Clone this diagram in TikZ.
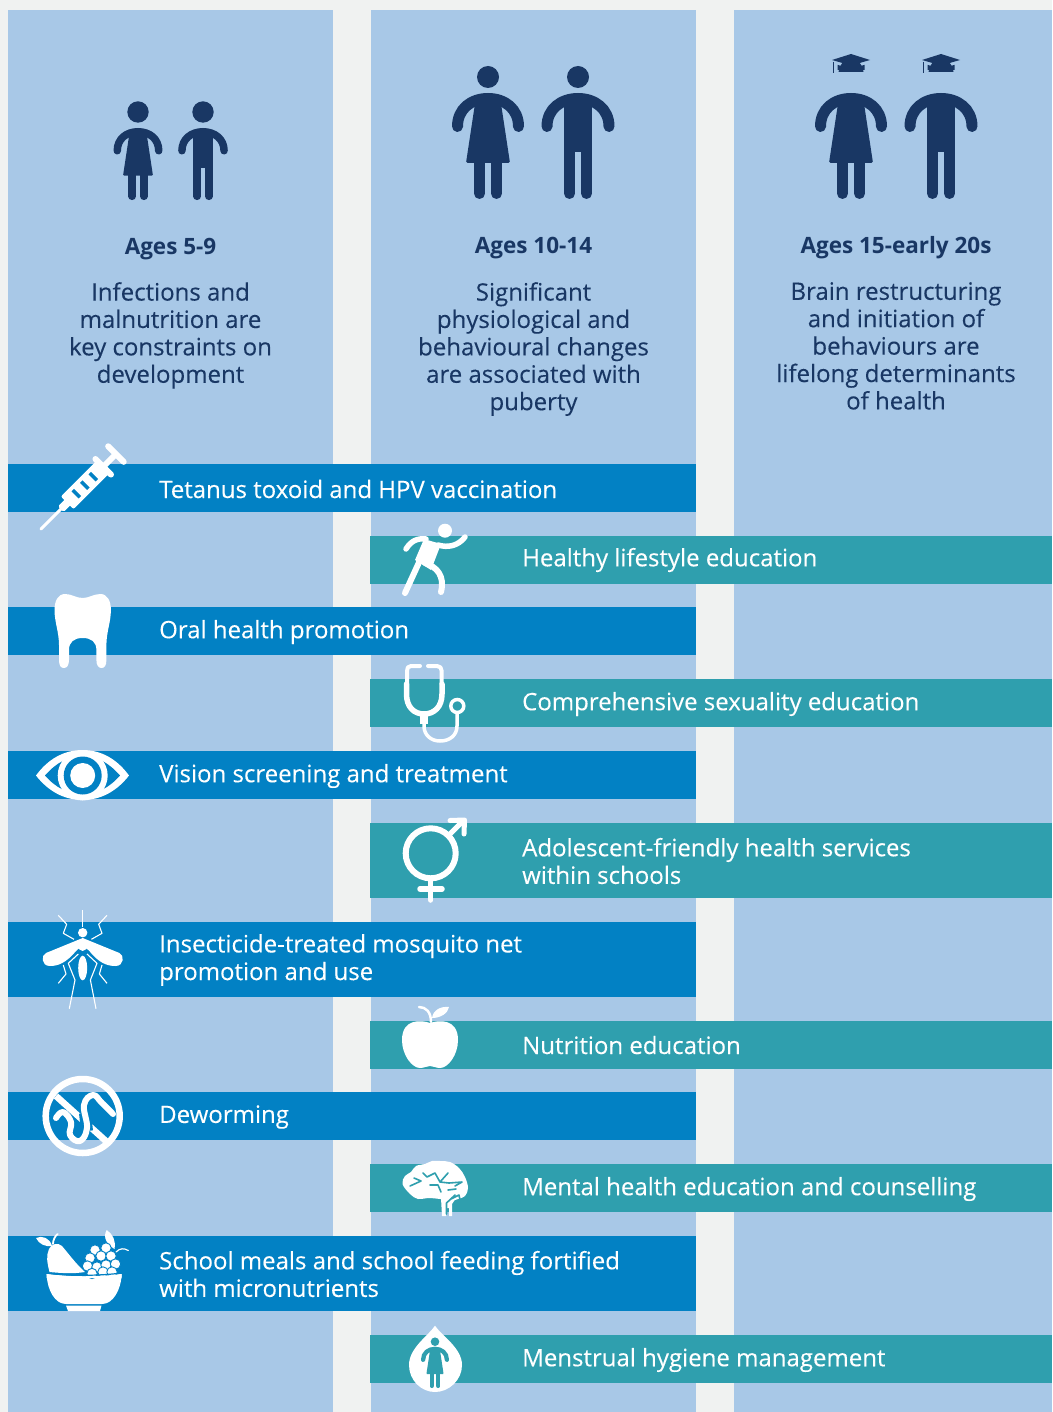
\documentclass[tikz,border=0pt]{standalone}
\usepackage{fontspec}
\setmainfont{Open Sans}
\newfontfamily\medf[FakeBold=0.2]{Open Sans}
\newfontfamily\boldf{Open Sans Bold}[BoldFont={Open Sans Bold}]
\definecolor{bgc}{HTML}{F0F2F1}
\definecolor{colc}{HTML}{A8C8E7}
\definecolor{bluec}{HTML}{0281C4}
\definecolor{tealc}{HTML}{2F9FAE}
\definecolor{navyc}{HTML}{193764}
\tikzset{
  x=1pt,y=-1pt,
  column/.style={fill=colc},
  bluebar/.style={fill=bluec},
  tealbar/.style={fill=tealc},
  bartext/.style={anchor=west,inner sep=0pt,text=white,align=left,font=\medf\fontsize{24}{27.6}\selectfont},
  headtext/.style={anchor=base,inner sep=0pt,text=navyc,font=\bfseries\fontsize{22.5}{27}\selectfont},
  bodytext/.style={anchor=north,inner sep=0pt,text=navyc,align=center,font=\medf\fontsize{24}{27.4}\selectfont},
  wh/.style={fill=white,draw=none},
  whl/.style={draw=white,line cap=round,line join=round,fill=none},
}
% #1 centre x, #2 shoulder-top y, #3 scale, #4 colour
\newcommand{\womanfig}[4]{%
 \begin{scope}[shift={(#1,#2)},scale=#3]
  \draw[#4,line width=#3*11pt,line cap=round] (-30.5,33.5) .. controls (-30.5,16) and (-17,5.5) .. (0,5.5) .. controls (17,5.5) and (30.5,16) .. (30.5,33.5);
  \fill[#4,rounded corners=#3*1.5pt] (-12,4) -- (12,4) -- (22,70) -- (-22,70) -- cycle;
  \draw[#4,line width=#3*11pt,line cap=round] (-8.5,66) -- (-8.5,100.5) (8.5,66) -- (8.5,100.5);
 \end{scope}}
\newcommand{\manfig}[4]{%
 \begin{scope}[shift={(#1,#2)},scale=#3]
  \draw[#4,line width=#3*11pt,line cap=round] (-31,33.5) .. controls (-31,16) and (-17,5.5) .. (0,5.5) .. controls (17,5.5) and (31,16) .. (31,33.5);
  \fill[#4] (-14,4) rectangle (14,59);
  \draw[#4,line width=#3*11pt,line cap=round] (-8.5,55) -- (-8.5,100.5) (8.5,55) -- (8.5,100.5);
 \end{scope}}
\newcommand{\gradhat}[1]{%
 \begin{scope}[shift={(#1,0)}]
  \fill[navyc] (0,54) -- (19,60) -- (0,65.5) -- (-19,60) -- cycle;
  \fill[navyc] (-13.5,65) -- (-13,65) -- (0,69) -- (13,65) -- (13.5,65) -- (13.5,70) -- (-13.5,70) -- cycle;
  \fill[navyc] (-12.5,72) -- (12.5,72) arc[start angle=0,end angle=-180,radius=12.5] -- cycle;
  \draw[navyc,line width=0.9pt] (-17.5,62) -- (-17.5,73);
 \end{scope}}
\begin{document}
\begin{tikzpicture}
\useasboundingbox (0,0) rectangle (1052,1412);
\fill[bgc] (0,0) rectangle (1052,1412);
\fill[column] (8,10) rectangle (333,1412);
\fill[column] (371,10) rectangle (696,1412);
\fill[column] (734,10) rectangle (1052,1412);
% figures
\fill[navyc] (138,112) circle[radius=10.7];
\fill[navyc] (203,112) circle[radius=10.7];
\womanfig{138}{128}{0.68}{navyc}
\manfig{203}{128}{0.68}{navyc}
\fill[navyc] (488,77) circle[radius=11];
\fill[navyc] (578,77) circle[radius=11];
\womanfig{488}{93}{1}{navyc}
\manfig{578}{93}{1}{navyc}
\gradhat{851}\gradhat{941}
\womanfig{851}{93}{1}{navyc}
\manfig{941}{93}{1}{navyc}
% heading texts
\node[headtext] (h1) at (170.5,255) {Ages 5-9};
\node[headtext] (h2) at (533.5,254) {Ages 10-14};
\node[headtext] (h3) at (896,254) {Ages 15-early 20s};
\node[bodytext] (b1) at (170.5,282) {Infections and\\malnutrition are\\key constraints on\\development};
\node[bodytext] (b2) at (533.5,282) {Significant\\physiological and\\behavioural changes\\are associated with\\puberty};
\node[bodytext] (b3) at (896,282) {Brain restructuring\\and initiation of\\behaviours are\\lifelong determinants\\of health};
% bars
\fill[bluebar] (8,464) rectangle (696,512);
\fill[bluebar] (8,607) rectangle (696,655);
\fill[bluebar] (8,751) rectangle (696,799);
\fill[bluebar] (8,922) rectangle (696,997);
\fill[bluebar] (8,1092) rectangle (696,1140);
\fill[bluebar] (8,1236) rectangle (696,1311);
\fill[tealbar] (370,536) rectangle (1052,584);
\fill[tealbar] (370,679) rectangle (1052,727);
\fill[tealbar] (370,823) rectangle (1052,898);
\fill[tealbar] (370,1021) rectangle (1052,1069);
\fill[tealbar] (370,1164) rectangle (1052,1212);
\fill[tealbar] (370,1335) rectangle (1052,1383);
% bar texts
\node[bartext] (t1) at (159,489) {Tetanus toxoid and HPV vaccination};
\node[bartext] (t2) at (522,560) {Healthy lifestyle education};
\node[bartext] (t3) at (159,632) {Oral health promotion};
\node[bartext] (t4) at (522,704) {Comprehensive sexuality education};
\node[bartext] (t5) at (159,776) {Vision screening and treatment};
\node[bartext] (t6) at (522,861) {Adolescent-friendly health services\\within schools};
\node[bartext] (t7) at (159,960) {Insecticide-treated mosquito net\\promotion and use};
\node[bartext] (t8) at (522,1045) {Nutrition education};
\node[bartext] (t9) at (159,1117) {Deworming};
\node[bartext] (t10) at (522,1189) {Mental health education and counselling};
\node[bartext] (t11) at (159,1274) {School meals and school feeding fortified\\with micronutrients};
\node[bartext] (t12) at (522,1360) {Menstrual hygiene management};
% syringe
\begin{scope}[shift={(41,529)},rotate=45]
 \draw[whl,line width=3pt] (0,0) -- (32,0);
 \fill[white,rounded corners=1.5pt] (28,-4) rectangle (40,4);
 \fill[white,rounded corners=2pt] (37,-9) rectangle (88,9);
 \draw[bluec,line width=3.5pt] (50,-5) -- (50,5) (62,-5) -- (62,5) (74,-5) -- (74,5);
 \draw[whl,line width=6pt] (88,-11) -- (88,11);
 \fill[white] (86,-3) rectangle (106,3);
 \draw[whl,line width=6pt] (106,-11) -- (106,11);
\end{scope}
% runner
\fill[white] (445,530.7) circle[radius=7];
\fill[wh] (424,539) -- (441,544) -- (431,570) -- (415,560) -- cycle;
\draw[whl,line width=5.5pt] (406,549) .. controls (411,541) and (417,538) .. (426,539);
\draw[whl,line width=5.5pt] (438,545) .. controls (448,548) and (458,546) .. (465,537);
\draw[whl,line width=6pt] (421,558) -- (405,593);
\draw[whl,line width=6pt] (425,563) .. controls (437,567) and (445,576) .. (441,592);
% tooth
\fill[wh] (82.7,598) .. controls (76,598) and (72,594) .. (65,594) .. controls (58,594) and (54.5,601) .. (54.5,610) .. controls (54.5,622) and (59,632) .. (59,645) -- (59,660) .. controls (59,666) and (61,668) .. (64,668) .. controls (67,668) and (69,665) .. (69,660) -- (69,650) .. controls (69,642) and (74,638) .. (82.7,638) .. controls (91.4,638) and (96.4,642) .. (96.4,650) -- (96.4,660) .. controls (96.4,665) and (98.4,668) .. (101.4,668) .. controls (104.4,668) and (106.4,666) .. (106.4,660) -- (106.4,645) .. controls (106.4,632) and (110.9,622) .. (110.9,610) .. controls (110.9,601) and (107.4,594) .. (100.4,594) .. controls (93.4,594) and (89.4,598) .. (82.7,598) -- cycle;
% stethoscope
\draw[whl,line width=4pt] (420,666) -- (411,666) .. controls (408,666) and (407,668) .. (407,671) -- (407,684);
\draw[whl,line width=4pt] (428,666) -- (437,666) .. controls (440,666) and (441.7,668) .. (441.7,671) -- (441.7,684);
\draw[whl,line width=5.5pt] (406.5,684) -- (406.5,694) .. controls (406.5,707) and (414,714) .. (424,714) .. controls (434,714) and (442,707) .. (442,694) -- (442,684);
\fill[white] (420,713) rectangle (428,724);
\draw[whl,line width=3.5pt] (424,722) -- (424,726) .. controls (424,735) and (431,741) .. (440,741) .. controls (450,741) and (457,735) .. (457,726) -- (457,714);
\draw[white,line width=3.5pt] (457.3,706) circle[radius=6.5];
% eye
\fill[wh] (36,775.5) .. controls (48,759) and (64,750) .. (82.7,750) .. controls (101,750) and (117,759) .. (129,775.5) .. controls (117,791) and (101,800) .. (82.7,800) .. controls (64,800) and (48,791) .. (36,775.5) -- cycle;
\fill[bluec] (45,775.5) .. controls (56,763) and (68,756) .. (82.7,756) .. controls (97,756) and (109,763) .. (120,775.5) .. controls (109,788) and (97,794) .. (82.7,794) .. controls (68,794) and (56,788) .. (45,775.5) -- cycle;
\fill[white] (82.7,775.5) circle[radius=25];
\fill[bluec] (82.7,775.5) circle[radius=19];
\fill[white] (82.7,775.5) circle[radius=12.5];
% gender symbol
\draw[white,line width=6pt] (430.7,853.3) circle[radius=25];
\draw[whl,line width=5.5pt] (430.7,880) -- (430.7,900) (420,889) -- (442,889);
\draw[whl,line width=5pt] (449,835) -- (464,820) (450,820.5) -- (464.5,820) -- (464,834);
% mosquito
\fill[white] (82.7,932.7) circle[radius=4.7];
\fill[wh] (82.7,938) -- (46,953) .. controls (41,955) and (41,966) .. (50,966) .. controls (58,966) and (66,963) .. (76,951) -- (82.7,945) -- (89.4,951) .. controls (99,963) and (107,966) .. (115.4,966) .. controls (124.4,966) and (124.4,955) .. (119.4,953) -- cycle;
\fill[white] (82.7,968) ellipse[x radius=4.5,y radius=12.3];
\fill[white] (82.7,945) ellipse[x radius=5,y radius=6];
\draw[white,line width=0.9pt,line join=round] (82.7,910) -- (82.7,927);
\draw[white,line width=1.1pt,line join=round] (74,939.3) -- (63.3,933.3) -- (66.7,924.3) -- (58.3,915.3)
 (91.4,939.3) -- (102,933.3) -- (98.7,924.3) -- (107,915.3)
 (78.3,954) -- (68.3,963.3) -- (75,980) -- (69.3,1008.7)
 (87,954) -- (97,963.3) -- (90.4,980) -- (96,1008.7)
 (63.3,965) -- (66,974) -- (58.3,983.3)
 (102,965) -- (99.4,974) -- (107,983.3);
% apple
\fill[wh] (430,1023) .. controls (422,1020) and (402,1018) .. (402,1040) .. controls (402,1055) and (412,1068) .. (420,1068) .. controls (424,1068) and (427,1066) .. (430,1066) .. controls (433,1066) and (436,1068) .. (440,1068) .. controls (448,1068) and (458,1055) .. (458,1040) .. controls (458,1018) and (438,1020) .. (430,1023) -- cycle;
\fill[wh] (432,1018) .. controls (433,1010) and (441,1006) .. (449,1007) .. controls (448,1013) and (441,1018) .. (432,1018) -- cycle;
\draw[white,line width=2.5pt,line cap=round] (431,1022) .. controls (431,1012) and (426,1007) .. (419,1007);
% deworming
\draw[white,line width=6.5pt] (82.7,1116) circle[radius=37];
\draw[white,line width=6.5pt] (56,1096) -- (107,1142);
\draw[bluec,line width=12pt] (87,1131) -- (85,1113);
\draw[whl,line width=6pt] plot[smooth,tension=0.7] coordinates {(56,1118) (63,1112) (71,1122) (70,1135) (80,1141) (87,1128) (84,1105) (93,1095) (102,1103) (113,1114)};
% fruit bowl
\fill[wh] (46.7,1274) .. controls (70,1277) and (98,1277) .. (121.7,1274) .. controls (121,1290) and (113,1304) .. (102,1304) -- (66,1304) .. controls (55,1304) and (47,1290) .. (46.7,1274) -- cycle;
\fill[wh] (66,1305.5) -- (101.5,1305.5) -- (100,1311) -- (68,1311) -- cycle;
\fill[wh] (49.5,1272) .. controls (47,1262) and (46,1256) .. (49,1249) .. controls (51,1244) and (58,1242) .. (62,1246) .. controls (68,1253) and (76,1264) .. (85,1272) .. controls (73,1274) and (60,1273) .. (49.5,1272) -- cycle;
\fill[wh] (36,1238) .. controls (42,1235) and (50,1238) .. (52,1246) .. controls (45,1247) and (39,1244) .. (36,1238) -- cycle;
\draw[white,line width=1.8pt,line cap=round] (53,1244) .. controls (53,1240) and (55,1236) .. (57.7,1234);
\fill[wh] (106.7,1230) .. controls (113,1234) and (116,1241) .. (114.5,1249) .. controls (108,1245) and (102,1238) .. (106.7,1230) -- cycle;
\draw[white,line width=1.2pt,line cap=round] (116,1252) .. controls (120,1248) and (124,1248) .. (128.3,1250.5);
\foreach \gx/\gy in {95/1250,106/1248,90/1258,101/1256,111/1256,87.5/1266,97/1267,106/1265,115.5/1264,103/1272,92/1273.5,112/1272}
  \fill[white,draw=bluec,line width=0.9pt] (\gx,\gy) circle[radius=5.2];
\fill[wh] (46.7,1274) .. controls (70,1277) and (98,1277) .. (121.7,1274) -- (121.7,1278) -- (46.7,1278) -- cycle;
\draw[bluec,line width=1.2pt] (46.7,1273) .. controls (70,1276) and (98,1276) .. (121.7,1273);
% brain
\fill[wh] plot[smooth cycle,tension=0.6] coordinates {(402.5,1184) (405,1176) (411,1172) (416,1166) (425,1164) (432,1161) (440,1161) (450,1162) (459,1168) (465,1177) (468,1188) (465,1196) (458,1199) (450,1201) (440,1199) (428,1198) (418,1199) (410,1194)};
\fill[wh] (441,1198) -- (456,1198) -- (452,1204) -- (452,1216) -- (449,1216) -- (449,1208) -- (446,1208) -- (446,1216) -- (442,1216) -- cycle;
\draw[tealc,line width=1.6pt,line cap=round,line join=round]
 (410,1186) -- (421,1181) -- (414,1178)
 (423,1173) -- (427,1177) -- (435,1173) -- (440,1182) -- (448,1173)
 (440,1182) -- (449,1183) -- (462,1182) (455,1186) -- (462,1182)
 (430,1185) -- (438,1185) -- (441,1192)
 (448,1190) -- (456,1189) (451,1199) -- (459,1195) -- (460,1200)
 (446.5,1214) -- (446.5,1203) -- (455,1195);
% drop with girl
\fill[wh] (435,1325.7) .. controls (428,1336) and (409,1348) .. (409,1365) .. controls (409,1380) and (421,1392) .. (435,1392) .. controls (449,1392) and (462,1380) .. (462,1365) .. controls (462,1348) and (442,1336) .. (435,1325.7) -- cycle;
\fill[tealc] (435,1341.7) circle[radius=4.3];
\womanfig{435}{1346.7}{0.39}{tealc}
\end{tikzpicture}
\end{document}
